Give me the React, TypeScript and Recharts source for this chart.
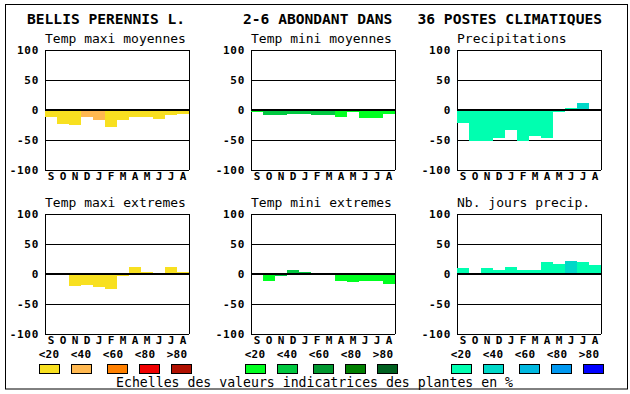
import React from 'react';
import { BarChart, Bar, XAxis, YAxis, CartesianGrid, ReferenceLine, Cell } from 'recharts';

const months = ['S', 'O', 'N', 'D', 'J', 'F', 'M', 'A', 'M', 'J', 'J', 'A'];
const yTicks = [-100, -50, 0, 50, 100];
const scaleLabels = ['<20', '<40', '<60', '<80', '>80'];

// values per month (Sept -> Aug), and colour class (0 = <20 ... 4 = >80)
const maxiMoy = [-12, -23, -25, -12, -17, -28, -17, -11, -11, -15, -8, -6];
const maxiMoyCls = [0, 0, 0, 1, 1, 0, 0, 0, 0, 0, 0, 0];

const miniMoy = [-3, -8, -8, -6, -6, -8, -8, -12, -3, -13, -14, -6];
const miniMoyCls = [0, 1, 1, 1, 1, 1, 1, 0, 0, 0, 0, 0];

const precip = [-21, -52, -52, -46, -33, -52, -43, -46, -3, 3, 12, 2];
const precipCls = [0, 0, 0, 0, 0, 0, 0, 0, 0, 0, 1, 0];

const maxiExt = [-2, -2, -20, -18, -22, -25, -4, 12, 4, -2, 12, 4];
const maxiExtCls = [0, 0, 0, 0, 0, 0, 0, 0, 0, 0, 0, 0];

const miniExt = [-2, -11, -4, 7, 4, 0, 0, -12, -14, -12, -11, -17];
const miniExtCls = [0, 0, 1, 1, 1, 0, 0, 0, 0, 0, 0, 0];

const nbJours = [10, -2, 10, 7, 12, 7, 7, 20, 17, 22, 20, 15];
const nbJoursCls = [0, 0, 0, 0, 0, 0, 0, 0, 0, 1, 0, 0];

const warmScale = ['#f8e020', '#ffb850', '#ff8000', '#f00000', '#b01000'];
const greenScale = ['#00ff20', '#00c840', '#009830', '#008000', '#006020'];
const blueScale = ['#00ffb0', '#00d8c8', '#00b8e0', '#0098f0', '#0000ff'];

const MONO = '"DejaVu Sans Mono", monospace';

const panels = [
  { title: 'Temp maxi moyennes', values: maxiMoy, cls: maxiMoyCls, scale: warmScale, x: 45, y: 50 },
  { title: 'Temp mini moyennes', values: miniMoy, cls: miniMoyCls, scale: greenScale, x: 251, y: 50 },
  { title: 'Precipitations', values: precip, cls: precipCls, scale: blueScale, x: 457, y: 50 },
  { title: 'Temp maxi extremes', values: maxiExt, cls: maxiExtCls, scale: warmScale, x: 45, y: 214 },
  { title: 'Temp mini extremes', values: miniExt, cls: miniExtCls, scale: greenScale, x: 251, y: 214 },
  { title: 'Nb. jours precip.', values: nbJours, cls: nbJoursCls, scale: blueScale, x: 457, y: 214 },
];

const legends = [
  { x: 39, scale: warmScale },
  { x: 245, scale: greenScale },
  { x: 451, scale: blueScale },
];
const swatchOffsets = [0, 32, 68, 100, 132];

const tickStyle = { fontFamily: MONO, fontSize: 11, fontWeight: 700, fill: '#000' };

function Panel({ values, cls, scale, x, y }: any) {
  const data = months.map((m, i) => ({ m, v: values[i], c: cls[i] }));
  return (
    <div style={{ position: 'absolute', left: x - 45, top: y - 10 }}>
      <BarChart
        width={194}
        height={150}
        data={data}
        margin={{ top: 10, right: 5, bottom: 0, left: 0 }}
        barCategoryGap={0}
        barGap={0}
        style={{ shapeRendering: 'crispEdges' }}
      >
        <CartesianGrid stroke="#000" verticalPoints={[45, 189]} />
        <XAxis
          dataKey="m"
          interval={0}
          axisLine={false}
          tickLine={false}
          tickSize={0}
          tickMargin={2}
          height={20}
          tick={tickStyle}
        />
        <YAxis
          type="number"
          domain={[-100, 100]}
          ticks={yTicks}
          interval={0}
          axisLine={false}
          tickLine={false}
          tickSize={0}
          tickMargin={6}
          width={45}
          tick={{ ...tickStyle, letterSpacing: 0.7 }}
        />
        <Bar dataKey="v" isAnimationActive={false}>
          {data.map((d, i) => (
            <Cell key={i} fill={scale[d.c]} />
          ))}
        </Bar>
        <ReferenceLine y={0} stroke="#000" strokeWidth={2} />
      </BarChart>
    </div>
  );
}

export default function App() {
  return (
    <div style={{ position: 'absolute', left: 0, top: 0, width: 630, height: 394, background: '#fff' }}>
      <svg width={630} height={394} style={{ position: 'absolute', left: 0, top: 0 }}>
        <rect x={5.5} y={4.5} width={622} height={384.5} fill="none" stroke="#000" />
        <g fontFamily={MONO} fontSize={14.6} fontWeight={700} fill="#000">
          <text x={27} y={23.5}>BELLIS PERENNIS L.</text>
          <text x={243} y={23.5}>2-6 ABONDANT DANS</text>
          <text x={602} y={23.5} textAnchor="end">36 POSTES CLIMATIQUES</text>
        </g>
        <g fontFamily={MONO} fontSize={13} fill="#000">
          {panels.map((p) => (
            <text key={p.title} x={p.x} y={p.y - 7.5}>
              {p.title}
            </text>
          ))}
        </g>
        {legends.map((g) => (
          <g key={g.x}>
            {g.scale.map((c, i) => (
              <rect
                key={c}
                x={g.x + swatchOffsets[i] + 0.5}
                y={364.5}
                width={20}
                height={9}
                fill={c}
                stroke="#000"
              />
            ))}
            {scaleLabels.map((l, i) => (
              <text
                key={l}
                x={g.x + 10 + 32 * i}
                y={358}
                textAnchor="middle"
                fontFamily={MONO}
                fontSize={11}
                fontWeight={700}
                letterSpacing={0.2}
              >
                {l}
              </text>
            ))}
          </g>
        ))}
        <text x={116} y={386.5} fontFamily={MONO} fontSize={13.2} fill="#000">
          Echelles des valeurs indicatrices des plantes en %
        </text>
      </svg>
      {panels.map((p) => (
        <Panel key={p.title} {...p} />
      ))}
    </div>
  );
}
